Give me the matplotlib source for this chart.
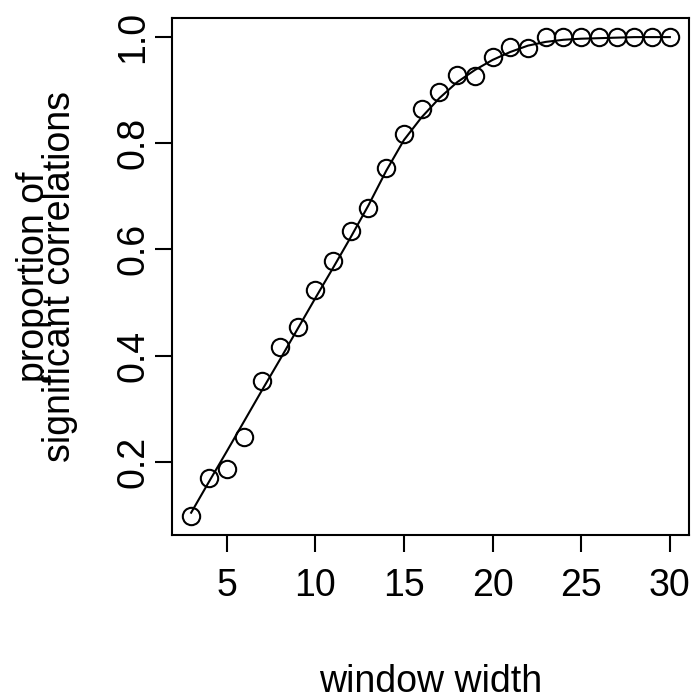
import matplotlib
matplotlib.use("Agg")
import matplotlib.pyplot as plt

# window widths and proportion of significant correlations (points)
width = [3, 4, 5, 6, 7, 8, 9, 10, 11, 12, 13, 14, 15, 16, 17, 18, 19, 20,
         21, 22, 23, 24, 25, 26, 27, 28, 29, 30]
prop = [0.098, 0.170, 0.186, 0.247, 0.352, 0.416, 0.454, 0.524, 0.578, 0.635,
        0.678, 0.753, 0.817, 0.864, 0.896, 0.928, 0.927, 0.962, 0.981, 0.979,
        1.0, 1.0, 1.0, 1.0, 1.0, 1.0, 1.0, 1.0]
# smooth fitted curve read at each width
fit = [0.104, 0.162, 0.219, 0.277, 0.335, 0.392, 0.450, 0.508, 0.565, 0.623,
       0.683, 0.748, 0.806, 0.849, 0.885, 0.915, 0.938, 0.957, 0.972, 0.984,
       0.991, 0.995, 0.997, 0.998, 0.999, 1.0, 1.0, 1.0]

xticks = [5, 10, 15, 20, 25, 30]
yticks = [0.2, 0.4, 0.6, 0.8, 1.0]
ylabels = ['0.2', '0.4', '0.6', '0.8', '1.0']

plt.rcParams['font.family'] = ['Liberation Sans', 'DejaVu Sans']
W, H = 696, 700
fig = plt.figure(figsize=(W / 100, H / 100), dpi=100)
ax = fig.add_axes([172 / W, 1 - 535 / H, (689 - 172) / W, (535 - 18) / H])

ax.plot(width, fit, color='black', lw=1.5)
ax.plot(width, prop, 'o', mfc='none', mec='black', ms=12.5, mew=1.5)

ax.set_xlim(1.92, 31.08)
ax.set_ylim(0.062, 1.036)
ax.set_xticks(xticks)
ax.set_yticks(yticks)
ax.set_yticklabels(ylabels, rotation=90, va='center')
ax.tick_params(axis='both', direction='out', length=12, width=1.5, labelsize=27)
ax.tick_params(axis='x', pad=12)
ax.tick_params(axis='y', pad=3)
for s in ax.spines.values():
    s.set_linewidth(1.5)

fig.text(430.5 / W, 1 - 692 / H, 'window width', ha='center', va='baseline', fontsize=27)
fig.text(44 / W, 1 - 276.5 / H, 'proportion of', rotation=90, rotation_mode='anchor',
         ha='center', va='baseline', fontsize=27)
fig.text(70 / W, 1 - 276.5 / H, 'significant correlations', rotation=90,
         rotation_mode='anchor', ha='center', va='baseline', fontsize=27)

fig.savefig('out.png', dpi=100)
